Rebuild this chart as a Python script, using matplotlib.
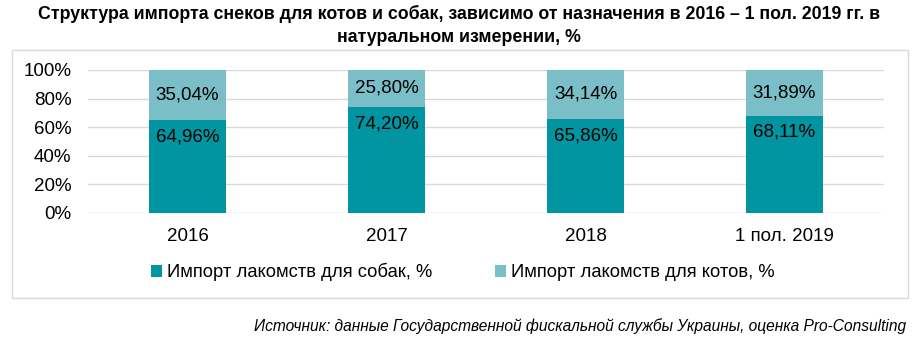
import matplotlib.pyplot as plt
from matplotlib.patches import Rectangle

# ----------------------------
# Data
# ----------------------------
categories = ["2016", "2017", "2018", "1 пол. 2019"]
dogs = [64.96, 74.20, 65.86, 68.11]
cats = [35.04, 25.80, 34.14, 31.89]
dog_labels = ["64,96%", "74,20%", "65,86%", "68,11%"]
cat_labels = ["35,04%", "25,80%", "34,14%", "31,89%"]
yticks = [0, 20, 40, 60, 80, 100]

dog_color = "#0095A0"
cat_color = "#7ABFC8"

plt.rcParams["font.family"] = ["Liberation Sans", "DejaVu Sans"]

fig = plt.figure(figsize=(9.23, 3.54), dpi=100)
W, H = 923, 354

# chart frame
fig.patches.append(Rectangle((12 / W, 1 - 298 / H), (908 - 12) / W, (298 - 50) / H,
                             transform=fig.transFigure, fill=False,
                             edgecolor="#D9D9D9", linewidth=1))

ax = fig.add_axes([88 / W, 1 - 213 / H, (884 - 88) / W, (213 - 70) / H])

x = range(len(categories))
ax.bar(x, dogs, width=0.39, color=dog_color, label="Импорт лакомств для собак, %", zorder=2)
ax.bar(x, cats, width=0.39, bottom=dogs, color=cat_color, label="Импорт лакомств для котов, %", zorder=2)

for i in x:
    ax.annotate(dog_labels[i], (i, dogs[i]), xytext=(0, -6), textcoords="offset points",
                ha="center", va="top", fontsize=13.5, color="black")
    ax.text(i, dogs[i] + cats[i] / 2, cat_labels[i], ha="center", va="center",
            fontsize=13.5, color="black")

ax.set_xlim(-0.5, len(categories) - 0.5)
ax.set_ylim(0, 100)
ax.set_yticks(yticks)
ax.set_yticklabels([f"{t}%" for t in yticks], fontsize=13.5)
ax.set_xticks(list(x))
ax.set_xticklabels(categories, fontsize=13.5)
ax.tick_params(length=0)
ax.tick_params(axis="x", pad=11)
ax.tick_params(axis="y", pad=12)
ax.yaxis.grid(True, color="#D9D9D9", linewidth=1, zorder=0)
for s in ax.spines.values():
    s.set_visible(False)

fig.legend(loc="center", bbox_to_anchor=(463 / W, 1 - 272 / H), ncol=2, frameon=False,
           fontsize=13.2, handlelength=0.6, handleheight=0.6, handletextpad=0.3,
           columnspacing=3.4)

fig.text(459 / W, 1 - 14 / H,
         "Структура импорта снеков для котов и собак, зависимо от назначения в 2016 – 1 пол. 2019 гг. в",
         ha="center", va="center", fontsize=12.8, fontweight="bold")
fig.text(459 / W, 1 - 38 / H, "натуральном измерении, %",
         ha="center", va="center", fontsize=12.8, fontweight="bold")

fig.text(906 / W, 1 - 326 / H,
         "Источник: данные Государственной фискальной службы Украины, оценка Pro-Consulting",
         ha="right", va="center", fontsize=11.2, style="italic")

fig.savefig("out.png", dpi=100)
